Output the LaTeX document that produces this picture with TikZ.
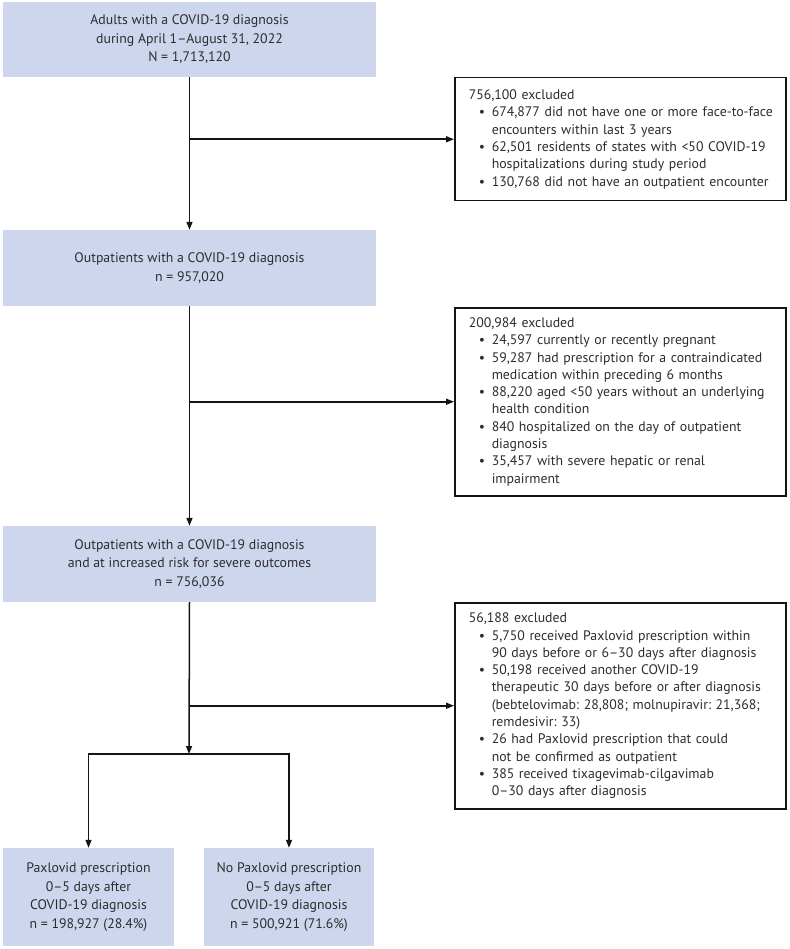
\documentclass[tikz,border=0pt]{standalone}
\usepackage{fontspec}
\setmainfont{PT Sans}
\usetikzlibrary{arrows.meta}
\definecolor{boxblue}{RGB}{205,214,236}
\definecolor{txt}{RGB}{45,45,45}
\definecolor{ln}{RGB}{20,20,20}
\newcommand{\blt}[1]{\mbox{\hspace*{10pt}\makebox[13pt][l]{•}#1}}
\newcommand{\cnt}[1]{\mbox{\hspace*{23pt}#1}}
\tikzset{
  mainbox/.style={fill=boxblue, draw=none, minimum width=373pt, minimum height=76pt,
    inner sep=0pt, align=center, text=txt, font=\frenchspacing\fontsize{13.8}{18.5}\selectfont},
  subbox/.style={mainbox, minimum width=171pt, minimum height=98pt},
  exclbox/.style={draw=ln, line width=1.5pt, fill=white, text width=303pt, align=left,
    inner xsep=14pt, inner ysep=0pt, anchor=north west, text=txt,
    font=\frenchspacing\fontsize{13.8}{17.3}\selectfont},
  conn/.style={draw=ln, line width=1.5pt},
  arr/.style={conn, -{Triangle[length=8pt,width=6pt]}}
}
\begin{document}
\begin{tikzpicture}[x=1pt,y=-1pt]
\useasboundingbox (0,0) rectangle (789,949);

\node[mainbox, minimum height=75pt] (b1) at (189.5,39.5)
  {Adults with a COVID-19 diagnosis\\during April 1–August 31, 2022\\N = 1,713,120};
\node[mainbox] (b2) at (189.5,268)
  {Outpatients with a COVID-19 diagnosis\\n = 957,020};
\node[mainbox] (b3) at (189.5,564)
  {Outpatients with a COVID-19 diagnosis\\and at increased risk for severe outcomes\\n = 756,036};
\node[subbox] (p1) at (88.5,897)
  {Paxlovid prescription\\0–5 days after\\COVID-19 diagnosis\\n = 198,927 (28.4\%)};
\node[subbox, minimum width=170pt] (p2) at (289,897)
  {No Paxlovid prescription\\0–5 days after\\COVID-19 diagnosis\\n = 500,921 (71.6\%)};

\node[exclbox, minimum height=123pt] (e1) at (454,77)
  {756,100 excluded\\
   \blt{674,877 did not have one or more face-to-face}\\
   \cnt{encounters within last 3 years}\\
   \blt{62,501 residents of states with <50 COVID-19}\\
   \cnt{hospitalizations during study period}\\
   \blt{130,768 did not have an outpatient encounter}};
\node[exclbox, minimum height=188pt] (e2) at (454,307)
  {200,984 excluded\\
   \blt{24,597 currently or recently pregnant}\\
   \blt{59,287 had prescription for a contraindicated}\\
   \cnt{medication within preceding 6 months}\\
   \blt{88,220 aged <50 years without an underlying}\\
   \cnt{health condition}\\
   \blt{840 hospitalized on the day of outpatient}\\
   \cnt{diagnosis}\\
   \blt{35,457 with severe hepatic or renal}\\
   \cnt{impairment}};
\node[exclbox, minimum height=206pt] (e3) at (454,602)
  {56,188 excluded\\
   \blt{5,750 received Paxlovid prescription within}\\
   \cnt{90 days before or 6–30 days after diagnosis}\\
   \blt{50,198 received another COVID-19}\\
   \cnt{therapeutic 30 days before or after diagnosis}\\
   \cnt{(bebtelovimab: 28,808; molnupiravir: 21,368;}\\
   \cnt{remdesivir: 33)}\\
   \blt{26 had Paxlovid prescription that could}\\
   \cnt{not be confirmed as outpatient}\\
   \blt{385 received tixagevimab-cilgavimab}\\
   \cnt{0–30 days after diagnosis}};

\coordinate (j1) at (b1.south |- e1.west);
\coordinate (j2) at (b2.south |- e2.west);
\coordinate (j3) at (b3.south |- e3.west);
\coordinate (s) at (189,754);
\coordinate (sl) at (p1.north |- s);
\coordinate (sr) at (p2.north |- s);

\draw[arr] (b1.south) -- (b2.north);
\draw[arr] (j1) -- (e1.west);
\draw[arr] (b2.south) -- (b3.north);
\draw[arr] (j2) -- (e2.west);
\draw[arr] (b3.south) -- (s);
\draw[arr] (j3) -- (e3.west);
\draw[conn] ([xshift=-0.75pt]sl) -- ([xshift=0.75pt]sr);
\draw[arr] (sl) -- (p1.north);
\draw[arr] (sr) -- (p2.north);
\end{tikzpicture}
\end{document}
